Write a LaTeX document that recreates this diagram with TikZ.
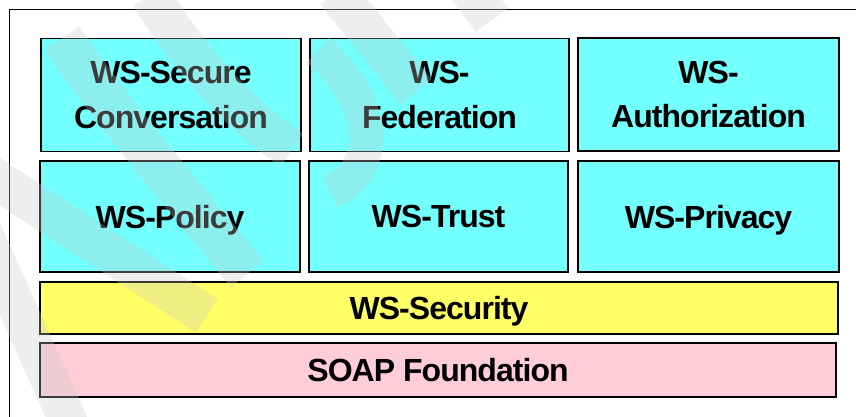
\documentclass[tikz,border=0pt]{standalone}
\usepackage{fontspec}
\setmainfont{Liberation Sans}
\newfontfamily\labelfont[LetterSpace=-3]{Liberation Sans}
\definecolor{layercyan}{RGB}{116,255,255}
\definecolor{layeryellow}{RGB}{255,255,102}
\definecolor{layerpink}{RGB}{255,204,217}
\definecolor{wmark}{RGB}{200,200,200}
\begin{document}
\begin{tikzpicture}[x=1pt,y=-1pt,
  layerbox/.style={draw=black, line width=1.6pt, inner sep=0pt, align=center,
    font=\labelfont\bfseries\fontsize{32}{44.5}\selectfont, text depth=-5pt},
  cyanbox/.style={layerbox, fill=layercyan, minimum width=260, minimum height=113},
  wm/.style={draw=wmark, opacity=0.3, line cap=butt}]
\useasboundingbox (0,0) rectangle (856,416);
% frame
\coordinate (fbl) at (9,417);
\coordinate (ftl) at (9,9);
\coordinate (ftr) at (857,9);
\draw[line width=0.9pt] (fbl) -- (ftl) -- (ftr);
% layers
\node[cyanbox] (sc) at (171,95) {WS-Secure\\Conversation};
\node[cyanbox, minimum width=259] (fed) at (439.5,95) {WS-\\Federation};
\node[cyanbox, minimum width=261] (auth) at (708.5,94.5) {WS-\\Authorization};
\node[cyanbox, minimum height=111] (pol) at (170,216.5) {WS-Policy};
\node[cyanbox, minimum width=259, minimum height=111] (tru) at (438.5,216.5) {WS-Trust};
\node[cyanbox, minimum width=261, minimum height=111] (pri) at (708.5,216.5) {WS-Privacy};
\node[layerbox, fill=layeryellow, minimum width=798, minimum height=52] (sec) at (439,308) {WS-Security};
\node[layerbox, fill=layerpink, minimum width=796, minimum height=54] (soap) at (438,370) {SOAP Foundation};
% faint watermark
\begin{scope}
\clip (0,0) rectangle (856,416);
\draw[wm, line width=42] (62,38) .. controls (100,95) and (170,180) .. (247,274);
\draw[wm, line width=40] (-15,172) -- (207,316);
\draw[wm, line width=38] (-20,225) -- (70,425);
\draw[wm, line width=40] (150,-5) .. controls (190,60) and (240,115) .. (292,150);
\draw[wm, line width=40] (336,-8) -- (416,92);
\draw[wm, line width=40] (468,-12) -- (492,20);
\draw[wm, line width=34] (318,50) .. controls (380,105) and (380,170) .. (330,192);
\end{scope}
\end{tikzpicture}
\end{document}
